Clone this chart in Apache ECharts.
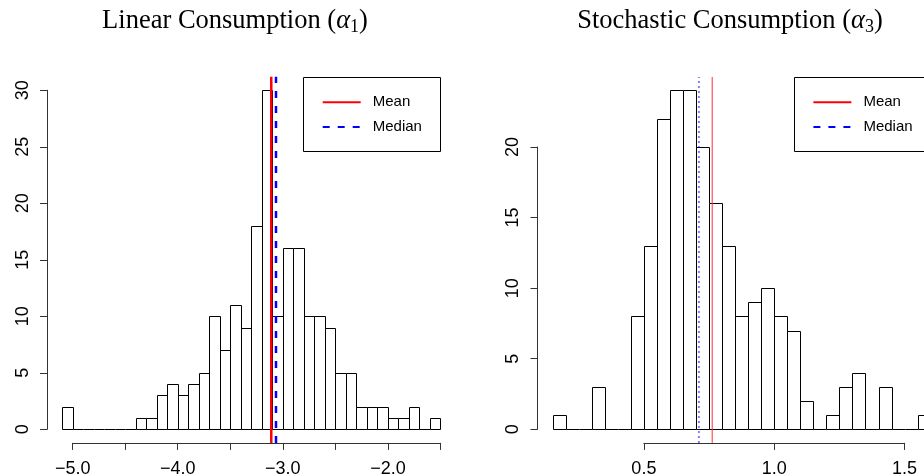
<!DOCTYPE html>
<html>
<head>
<meta charset="utf-8">
<script src="https://cdn.jsdelivr.net/npm/echarts@6.0.0/dist/echarts.min.js"></script>
<style>
html,body{margin:0;padding:0;background:#fff;}
#chart{width:924px;height:476px;}
</style>
</head>
<body>
<div id="chart"></div>
<script>
// ---------- data ----------
const linearBinStart = -5.1;
const linearBinWidth = 0.1;
const linearCounts = [2,0,0,0,0,0,0,1,1,3,4,3,4,5,10,7,11,9,18,30,10,16,16,10,10,9,5,5,2,2,2,1,1,2,0,1];
const linearMean = -3.11;
const linearMedian = -3.065;
const linearXTicks = [-5.0, -1.5, 0.5];   // min, max, interval of tick marks
const linearYTicks = [0, 30, 5];

const stochBinStart = 0.15;
const stochBinWidth = 0.05;
const stochCounts = [1,0,0,3,0,0,8,13,22,24,24,20,16,13,8,9,10,8,7,2,0,1,3,4,0,3,0,0,1];
const stochMean = 0.762;
const stochMedian = 0.711;
const stochXTicks = [0.5, 1.5, 0.5];
const stochYTicks = [0, 20, 5];

const legendNames = ['Mean', 'Median'];

// ---------- layout ----------
const W = 924;
const SANS = 'Liberation Sans';
const SERIF = 'Liberation Serif';
const MINUS = '\u2212';

function histData(start, width, counts) {
  return counts.map((c, i) => [start + i * width, start + (i + 1) * width, c]);
}
function extent(start, width, counts) {
  const x0 = start, x1 = start + width * counts.length;
  const pad = (x1 - x0) * 0.04;
  const ymax = Math.max.apply(null, counts);
  return { x: [x0 - pad, x1 + pad], y: [-ymax * 0.04, ymax * 1.04] };
}

// plot regions (pixels)
const panels = [
  { left: 47,    top: 76.7, width: 408.6, height: 366.2,
    ext: extent(linearBinStart, linearBinWidth, linearCounts),
    xt: linearXTicks, yt: linearYTicks },
  { left: 537.5, top: 76.9, width: 408.3, height: 366.0,
    ext: extent(stochBinStart, stochBinWidth, stochCounts),
    xt: stochXTicks, yt: stochYTicks }
];

const grids = [], xAxes = [], yAxes = [];
panels.forEach((p, k) => {
  const ppx = p.width / (p.ext.x[1] - p.ext.x[0]);
  const ppy = p.height / (p.ext.y[1] - p.ext.y[0]);
  // data grid, limited to the visible canvas (the page cuts the right panel)
  const visW = Math.min(p.width, W - p.left);
  const visMax = p.ext.x[0] + visW / ppx;
  grids.push({ left: p.left, top: p.top, width: visW, height: p.height,
    containLabel: false, outerBoundsMode: 'none' });
  xAxes.push({ type: 'value', gridIndex: 2 * k, min: p.ext.x[0], max: visMax, show: false });
  yAxes.push({ type: 'value', gridIndex: 2 * k, min: p.ext.y[0], max: p.ext.y[1], show: false });
  // axis grid (R style detached axes)
  const gl = p.left + (p.xt[0] - p.ext.x[0]) * ppx;
  const gw = (p.xt[1] - p.xt[0]) * ppx;
  const gb = p.top + p.height - (p.yt[0] - p.ext.y[0]) * ppy;
  const gt = p.top + (p.ext.y[1] - p.yt[1]) * ppy;
  grids.push({ left: gl, top: gt, width: gw, height: gb - gt,
    containLabel: false, outerBoundsMode: 'none' });
  xAxes.push({
    type: 'value', gridIndex: 2 * k + 1, min: p.xt[0], max: p.xt[1], interval: p.xt[2],
    position: 'bottom', offset: (p.top + p.height) - gb,
    axisLine: { show: true, onZero: false, lineStyle: { color: '#333', width: 1 } },
    axisTick: { show: true, length: 7, lineStyle: { color: '#333' } },
    splitLine: { show: false },
    axisLabel: {
      show: true, margin: 17, color: '#000', fontFamily: SANS, fontSize: 18,
      showMinLabel: true, showMaxLabel: true,
      formatter: v => {
        if (Math.abs(v - Math.round(v)) > 1e-9 && k === 0) return '';
        const s = Math.abs(v).toFixed(1);
        return v < 0 ? MINUS + s : s;
      }
    }
  });
  yAxes.push({
    type: 'value', gridIndex: 2 * k + 1, min: p.yt[0], max: p.yt[1], interval: p.yt[2],
    position: 'left', offset: gl - p.left,
    axisLine: { show: true, onZero: false, lineStyle: { color: '#333', width: 1 } },
    axisTick: { show: true, length: 7, lineStyle: { color: '#333' } },
    splitLine: { show: false },
    axisLabel: { show: true, rotate: 90, margin: 15, color: '#000', fontFamily: SANS, fontSize: 18,
      showMinLabel: true, showMaxLabel: true }
  });
});

function renderBar(params, api) {
  const x0 = api.value(0), x1 = api.value(1), c = api.value(2);
  const p0 = api.coord([x0, 0]);
  const p1 = api.coord([x1, c]);
  const xa = Math.round(p0[0]) + 0.5, xb = Math.round(p1[0]) + 0.5;
  const yb = Math.round(p0[1]) + 0.5, yt = Math.round(p1[1]) + 0.5;
  if (c === 0) {
    return { type: 'line', shape: { x1: xa, y1: yb, x2: xb, y2: yb },
      style: { stroke: '#000', lineWidth: 1 } };
  }
  return { type: 'rect', shape: { x: xa, y: yt, width: xb - xa, height: yb - yt },
    style: { fill: '#fff', stroke: '#000', lineWidth: 1 } };
}

function vline(name, idx, x, ext, color, width, type, opacity) {
  return {
    name: name, type: 'line', xAxisIndex: idx, yAxisIndex: idx,
    data: [[x, ext.y[0]], [x, ext.y[1]]], symbol: 'none', silent: true, z: 5,
    lineStyle: { color: color, width: width, type: type, opacity: opacity },
    itemStyle: { color: color }
  };
}

const series = [
  { type: 'custom', xAxisIndex: 0, yAxisIndex: 0, renderItem: renderBar, clip: false,
    data: histData(linearBinStart, linearBinWidth, linearCounts), z: 2, silent: true },
  vline(legendNames[0], 0, linearMean, panels[0].ext, '#ff0000', 2.5, 'solid', 1),
  vline(legendNames[1], 0, linearMedian, panels[0].ext, '#0000ff', 2.5, [7, 8], 1),
  { type: 'custom', xAxisIndex: 2, yAxisIndex: 2, renderItem: renderBar, clip: false,
    data: histData(stochBinStart, stochBinWidth, stochCounts), z: 2, silent: true },
  vline(legendNames[0], 2, stochMean, panels[1].ext, '#ff3030', 1, 'solid', 1),
  vline(legendNames[1], 2, stochMedian, panels[1].ext, '#0000ff', 2, [2, 3], 0.5)
];

// legend boxes (R draws a framed legend at the top right of each panel)
const legendBoxes = [
  { left: 303.3, top: 76.7, width: 136.7, height: 74.3 },
  { left: 794,   top: 76.7, width: 136.7, height: 74.3 }
];

function legendAt(box) {
  return {
    left: box.left, top: box.top, orient: 'vertical', selectedMode: false,
    data: [
      { name: legendNames[0], itemStyle: { opacity: 0, borderWidth: 0 },
        lineStyle: { color: '#ff0000', width: 2, type: 'solid', opacity: 1 } },
      { name: legendNames[1], itemStyle: { opacity: 0, borderWidth: 0 },
        lineStyle: { color: '#0000ff', width: 2, type: [7, 8], opacity: 1 } }
    ],
    itemWidth: 38, itemHeight: 14, itemGap: 9.7,
    padding: [18, 17, 16.5, 18.4],
    textStyle: { fontFamily: SANS, fontSize: 15, color: '#000', padding: [0, 0, 0, 7] }
  };
}

function titleAt(x, main, sub) {
  return {
    left: x - 5, top: 1, textAlign: 'center',
    text: '{n|' + main + ' (}{a|\u03b1}{s|' + sub + '}{n|)}',
    textStyle: {
      rich: {
        n: { fontFamily: SERIF, fontWeight: 'normal', fontSize: 26.5, lineHeight: 30, color: '#000' },
        a: { fontFamily: SERIF, fontWeight: 'normal', fontStyle: 'italic', fontSize: 26.5, lineHeight: 30, color: '#000' },
        s: { fontFamily: SERIF, fontWeight: 'normal', fontSize: 18, lineHeight: 14, verticalAlign: 'bottom', color: '#000' }
      }
    }
  };
}

const chart = echarts.init(document.getElementById('chart'), null, { renderer: 'canvas' });
chart.setOption({
  animation: false,
  backgroundColor: '#fff',
  title: [titleAt(235, 'Linear Consumption', '1'), titleAt(730, 'Stochastic Consumption', '3')],
  legend: legendBoxes.map(legendAt),
  graphic: legendBoxes.map(b => ({
    type: 'rect', silent: true, z: 10,
    shape: { x: Math.round(b.left) + 0.5, y: Math.round(b.top) + 0.5, width: Math.round(b.width), height: Math.round(b.height) },
    style: { fill: 'none', stroke: '#000', lineWidth: 1 }
  })),
  grid: grids,
  xAxis: xAxes,
  yAxis: yAxes,
  series: series
});
</script>
</body>
</html>
